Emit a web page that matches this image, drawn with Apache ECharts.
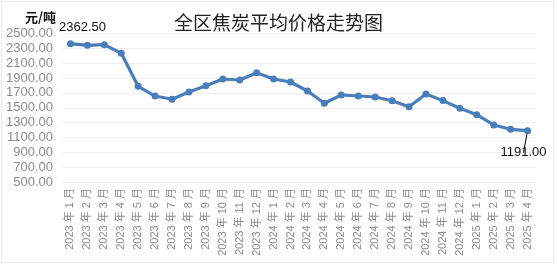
<!DOCTYPE html>
<html><head><meta charset="utf-8">
<script src="https://cdn.jsdelivr.net/npm/echarts@6/dist/echarts.min.js"></script>
<style>
html,body{margin:0;padding:0;background:#fff;}
#frame{position:absolute;left:1px;top:1px;width:553px;height:262px;border:1px solid #ebebeb;box-sizing:border-box;}
#c{position:absolute;left:0;top:0;width:557px;height:267px;}
</style></head>
<body><div id="frame"></div><div id="c"></div>
<script>
const categories = ['2023 年 1 月','2023 年 2 月','2023 年 3 月','2023 年 4 月','2023 年 5 月','2023 年 6 月','2023 年 7 月','2023 年 8 月','2023 年 9 月','2023 年 10 月','2023 年 11 月','2023 年 12 月','2024 年 1 月','2024 年 2 月','2024 年 3 月','2024 年 4 月','2024 年 5 月','2024 年 6 月','2024 年 7 月','2024 年 8 月','2024 年 9 月','2024 年 10 月','2024 年 11 月','2024 年 12 月','2025 年 1 月','2025 年 2 月','2025 年 3 月','2025 年 4 月'];
const prices = [2362.5,2341,2350,2233,1789,1658,1614,1712,1797,1887,1874,1972,1887,1847,1726,1560,1672,1658,1645,1595,1514,1685,1596,1493,1406,1268,1210,1191];
const yTicks = {min:500, max:2500, interval:200};
const title = '全区焦炭平均价格走势图';
const unit = '元/吨';

const chart = echarts.init(document.getElementById('c'));
const last = prices.length - 1;
chart.setOption({
  animation:false,
  title:{text:title,left:'center',top:8,textStyle:{fontFamily:'Noto Sans CJK SC',fontSize:19,fontWeight:'normal',color:'#222'}},
  grid:{left:62,right:21,top:33.5,bottom:85},
  xAxis:{type:'category',data:categories,boundaryGap:true,
    axisLine:{show:true,lineStyle:{color:'#eeeeee'}},axisTick:{show:false},
    axisLabel:{rotate:90,interval:0,color:'#8c8c8c',fontSize:11,fontFamily:'Liberation Sans, Noto Sans CJK SC',margin:6}},
  yAxis:{type:'value',min:yTicks.min,max:yTicks.max,interval:yTicks.interval,
    name:unit,nameLocation:'end',nameGap:10,nameTextStyle:{fontFamily:'Noto Sans CJK SC',fontWeight:'bold',fontSize:13,color:'#111',align:'right',padding:[0,6,0,0]},
    axisLine:{show:false},axisTick:{show:false},
    splitLine:{lineStyle:{color:'#efefef'}},
    axisLabel:{formatter:v=>v.toFixed(2),color:'#8c8c8c',fontSize:13,fontFamily:'Liberation Sans',margin:9}},
  series:[{type:'line',data:prices.map((v,i)=>{
      if(i===0) return {value:v,label:{show:true,position:'top',distance:6,offset:[12,0],formatter:p=>p.value.toFixed(2)}};
      if(i===last) return {value:v,label:{show:true,position:'bottom',distance:12,offset:[-4,0],formatter:p=>p.value.toFixed(2)},labelLine:{show:true,lineStyle:{color:'#000',width:1}}};
      return v;}),
    symbol:'circle',symbolSize:7,
    lineStyle:{color:'#4a7ebb',width:3.2},itemStyle:{color:'#4a7ebb'},
    label:{color:'#111',fontSize:13,fontFamily:'Liberation Sans'}
  }]
});
</script></body></html>
